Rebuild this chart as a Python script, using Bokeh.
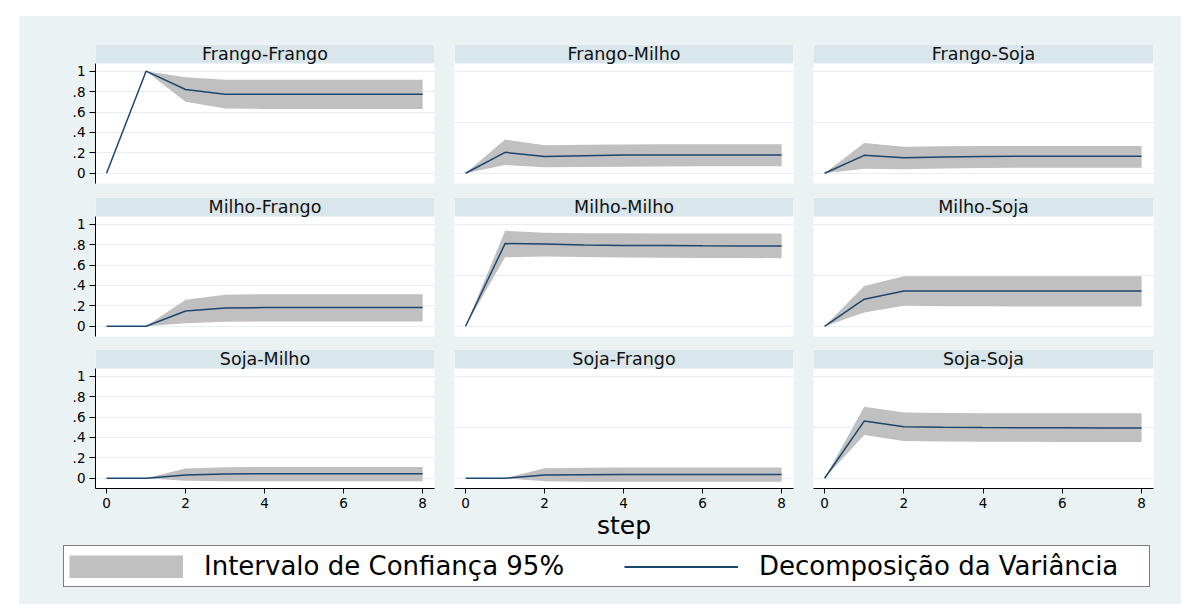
from bokeh.plotting import figure
from bokeh.layouts import row, column
from bokeh.models import (Range1d, FixedTicker, BoxAnnotation, Label, Legend,
                          LegendItem, LinearAxis, Grid, Spacer)
from bokeh.embed import file_html
from bokeh.resources import INLINE

# ---------------- data ----------------
steps = [0, 1, 2, 3, 4, 5, 6, 7, 8]

panel_titles = [
    ["Frango-Frango", "Frango-Milho", "Frango-Soja"],
    ["Milho-Frango", "Milho-Milho", "Milho-Soja"],
    ["Soja-Milho", "Soja-Frango", "Soja-Soja"],
]

ff_val = [0, 1.0, 0.82, 0.775, 0.775, 0.775, 0.775, 0.775, 0.775]
ff_lo = [0, 1.0, 0.70, 0.635, 0.63, 0.63, 0.63, 0.63, 0.63]
ff_hi = [0, 1.0, 0.94, 0.915, 0.915, 0.915, 0.915, 0.915, 0.915]

fm_val = [0, 0.205, 0.165, 0.172, 0.178, 0.18, 0.18, 0.18, 0.18]
fm_lo = [0, 0.08, 0.058, 0.062, 0.065, 0.067, 0.068, 0.068, 0.068]
fm_hi = [0, 0.33, 0.275, 0.28, 0.283, 0.285, 0.285, 0.285, 0.285]

fs_val = [0, 0.176, 0.153, 0.16, 0.165, 0.167, 0.167, 0.167, 0.167]
fs_lo = [0, 0.045, 0.04, 0.047, 0.052, 0.054, 0.055, 0.055, 0.055]
fs_hi = [0, 0.297, 0.26, 0.264, 0.266, 0.268, 0.268, 0.268, 0.268]

mf_val = [0, 0, 0.15, 0.18, 0.183, 0.183, 0.183, 0.183, 0.183]
mf_lo = [0, 0, 0.03, 0.045, 0.046, 0.046, 0.046, 0.046, 0.046]
mf_hi = [0, 0, 0.26, 0.31, 0.314, 0.314, 0.314, 0.314, 0.314]

mm_val = [0, 0.81, 0.805, 0.797, 0.792, 0.79, 0.788, 0.787, 0.787]
mm_lo = [0, 0.675, 0.683, 0.678, 0.674, 0.671, 0.669, 0.668, 0.667]
mm_hi = [0, 0.935, 0.915, 0.912, 0.91, 0.909, 0.908, 0.908, 0.908]

ms_val = [0, 0.265, 0.345, 0.345, 0.345, 0.345, 0.345, 0.345, 0.345]
ms_lo = [0, 0.135, 0.2, 0.197, 0.195, 0.194, 0.193, 0.193, 0.193]
ms_hi = [0, 0.395, 0.49, 0.49, 0.49, 0.49, 0.49, 0.49, 0.49]

sm_val = [0, 0, 0.033, 0.042, 0.044, 0.044, 0.044, 0.044, 0.044]
sm_lo = [0, 0, -0.025, -0.03, -0.03, -0.03, -0.03, -0.03, -0.03]
sm_hi = [0, 0, 0.095, 0.108, 0.11, 0.11, 0.11, 0.11, 0.11]

sf_val = [0, 0, 0.033, 0.035, 0.036, 0.036, 0.036, 0.036, 0.036]
sf_lo = [0, 0, -0.03, -0.033, -0.035, -0.035, -0.035, -0.035, -0.035]
sf_hi = [0, 0, 0.098, 0.103, 0.105, 0.105, 0.105, 0.105, 0.105]

ss_val = [0, 0.56, 0.505, 0.5, 0.497, 0.495, 0.494, 0.493, 0.493]
ss_lo = [0, 0.425, 0.365, 0.36, 0.358, 0.357, 0.356, 0.356, 0.356]
ss_hi = [0, 0.70, 0.643, 0.64, 0.638, 0.637, 0.637, 0.637, 0.637]

panel_data = [
    [(ff_val, ff_lo, ff_hi), (fm_val, fm_lo, fm_hi), (fs_val, fs_lo, fs_hi)],
    [(mf_val, mf_lo, mf_hi), (mm_val, mm_lo, mm_hi), (ms_val, ms_lo, ms_hi)],
    [(sm_val, sm_lo, sm_hi), (sf_val, sf_lo, sf_hi), (ss_val, ss_lo, ss_hi)],
]

y_ticks = [0, 0.2, 0.4, 0.6, 0.8, 1]
y_tick_labels = ["0", ".2", ".4", ".6", ".8", "1"]
inner_grid = [0, 0.5, 1]
x_ticks = [0, 2, 4, 6, 8]
x_label = "step"
legend_labels = ["Intervalo de Confiança 95%", "Decomposição da Variância"]

# ---------------- style / layout ----------------
BG = "#EAF2F3"
STRIP = "#D9E6EB"
BAND = "#C0C0C0"
NAVY = "#1A476F"
GRIDC = "#E6EEF0"
FONT = "DejaVu Sans"

X0, X1 = -0.28, 8.30
Y0, YPLOT = -0.10, 1.075
YTOP = YPLOT + 19 / 102.1

col_w = [425, 359, 378]
col_bl = [76, 10, 10]
col_br = [10, 10, 28]
row_h = [174, 153, 202]
row_bt = [28, 7, 6]
row_bb = [7, 7, 57]

rows = []
for i in range(3):
    figs = []
    for j in range(3):
        val, lo, hi = panel_data[i][j]
        p = figure(width=col_w[j], height=row_h[i],
                   x_range=Range1d(X0, X1), y_range=Range1d(Y0, YTOP),
                   x_axis_location=None, y_axis_location=None,
                   toolbar_location=None, output_backend="svg",
                   min_border_left=col_bl[j], min_border_right=col_br[j],
                   min_border_top=row_bt[i], min_border_bottom=row_bb[i])
        p.background_fill_color = "white"
        p.border_fill_color = BG
        p.outline_line_color = None
        p.center = [c for c in p.center if not isinstance(c, Grid)]

        gticks = y_ticks if j == 0 else inner_grid
        p.add_layout(Grid(dimension=1, ticker=FixedTicker(ticks=gticks),
                          grid_line_color=GRIDC, grid_line_width=1))

        p.varea(x=steps, y1=lo, y2=hi, fill_color=BAND, fill_alpha=1)
        p.line(x=steps, y=val, line_color=NAVY, line_width=1.5)

        # title strip
        p.add_layout(BoxAnnotation(bottom=YPLOT, fill_color=STRIP, fill_alpha=1,
                                   line_alpha=0, level="overlay"))
        p.add_layout(Label(x=(X0 + X1) / 2, y=(YPLOT + YTOP) / 2,
                           text=panel_titles[i][j], text_align="center",
                           text_baseline="middle", text_font_size="17.5px",
                           text_font=FONT, text_color="#111111", level="overlay"))

        if j == 0:
            ya = LinearAxis(ticker=FixedTicker(ticks=y_ticks),
                            bounds=(Y0, YPLOT))
            ya.major_label_overrides = {t: s for t, s in zip(y_ticks, y_tick_labels)}
            ya.major_label_orientation = "horizontal"
            ya.axis_line_color = "black"
            ya.major_tick_line_color = "black"
            ya.major_tick_in = 0
            ya.major_tick_out = 6
            ya.minor_tick_line_color = None
            ya.major_label_standoff = 4
            ya.major_label_text_font = FONT
            ya.major_label_text_font_size = "13.5px"
            ya.major_label_text_color = "black"
            p.add_layout(ya, "left")
        if i == 2:
            xa = LinearAxis(ticker=FixedTicker(ticks=x_ticks))
            xa.axis_line_color = "black"
            xa.major_tick_line_color = "black"
            xa.major_tick_in = 0
            xa.major_tick_out = 5
            xa.minor_tick_line_color = None
            xa.major_label_standoff = 4
            xa.major_label_text_font = FONT
            xa.major_label_text_font_size = "13.5px"
            xa.major_label_text_color = "black"
            if j == 1:
                xa.axis_label = x_label
                xa.axis_label_text_font = FONT
                xa.axis_label_text_font_size = "25px"
                xa.axis_label_text_font_style = "normal"
                xa.axis_label_text_color = "black"
                xa.axis_label_standoff = 0
            p.add_layout(xa, "below")
        figs.append(p)
    rows.append(row(*figs, spacing=0, styles={"background-color": BG}))

# ---------------- legend ----------------
lf = figure(width=1162, height=59, x_range=Range1d(-3, -2), y_range=Range1d(-3, -2),
            x_axis_location=None, y_axis_location=None,
            toolbar_location=None, output_backend="svg",
            min_border_left=44, min_border_right=0, min_border_top=0,
            min_border_bottom=0)
lf.background_fill_color = BG
lf.border_fill_color = BG
lf.outline_line_color = None
lf.center = [c for c in lf.center if not isinstance(c, Grid)]
# legend swatches: renderers fed with the first panel's data (kept outside the view)
r_band = lf.line(x=steps, y=ff_lo, line_color=BAND, line_width=23, line_cap="butt")
r_line = lf.line(x=steps, y=ff_val, line_color=NAVY, line_width=2)
legend = Legend(items=[LegendItem(label=legend_labels[0], renderers=[r_band]),
                       LegendItem(label=legend_labels[1], renderers=[r_line])],
                location="top_left", orientation="horizontal", margin=0,
                padding=5, spacing=35, glyph_width=114, glyph_height=23,
                label_standoff=21, label_width=385,
                label_text_font=FONT, label_text_font_size="26px",
                label_text_color="black",
                border_line_color="black", border_line_width=1,
                background_fill_color="white", background_fill_alpha=1)
lf.add_layout(legend)

inner = column(*rows, lf, spacing=0, styles={"background-color": BG})
layout = column(Spacer(height=16), row(Spacer(width=19), inner, spacing=0), spacing=0)

open("out.html", "w").write(file_html(layout, INLINE))
